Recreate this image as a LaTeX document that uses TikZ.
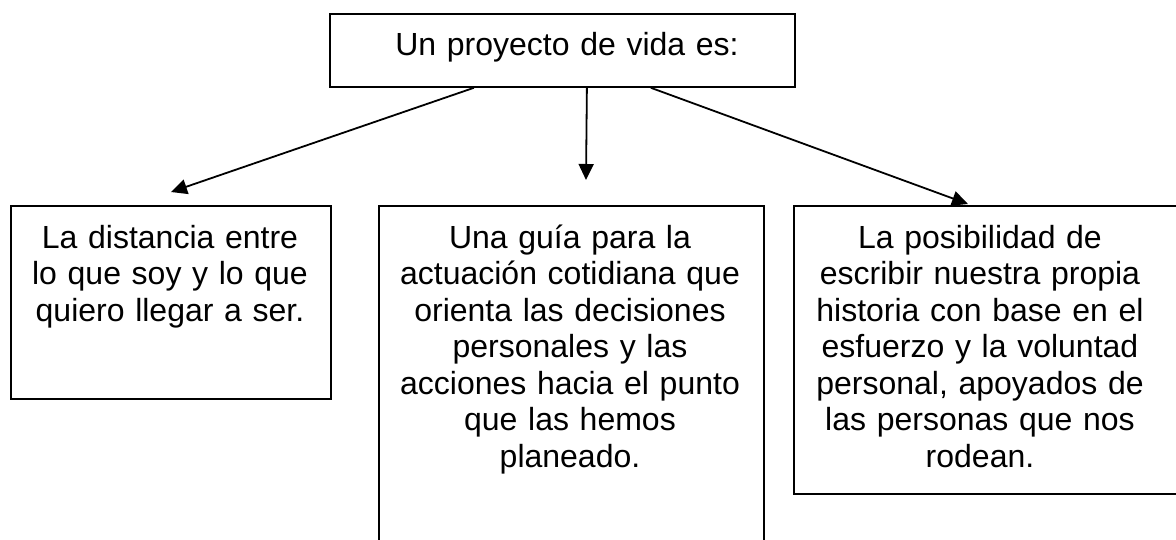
\documentclass[tikz,border=0pt]{standalone}
\usepackage{fontspec}
\setmainfont{Liberation Sans}
\usetikzlibrary{arrows.meta}

\tikzset{
	caja/.style={draw, line width=1.8pt, inner sep=0pt, anchor=north west},
	texto/.style={inner sep=0pt, anchor=base, text width=390pt, align=center, font=\fontsize{32}{36.5}\selectfont},
	flecha/.style={line width=1.8pt, -{Triangle[length=16pt,width=15pt]}}
}

\begin{document}
\begin{tikzpicture}[x=1pt,y=-1pt]

	\useasboundingbox (0,0) rectangle (1176,539);

	\node[caja, minimum width=465pt, minimum height=73pt] (proyecto) at (329,13) {};
	\node[caja, minimum width=320pt, minimum height=193pt] (distancia) at (10,205) {};
	\node[caja, minimum width=385pt, minimum height=360pt] (guia) at (378,205) {};
	\node[caja, minimum width=392pt, minimum height=288pt] (posibilidad) at (793,205) {};

	\node[texto] (t-proyecto) at (567,55) {Un proyecto de vida es:};
	\node[texto] (t-distancia) at (170,248) {La distancia entre\\lo que soy y lo que\\quiero llegar a ser.};
	\node[texto] (t-guia) at (570,248) {Una guía para la\\actuación cotidiana que\\orienta las decisiones\\personales y las\\acciones hacia el punto\\que las hemos\\planeado.};
	\node[texto] (t-posibilidad) at (980,248) {La posibilidad de\\escribir nuestra propia\\historia con base en el\\esfuerzo y la voluntad\\personal, apoyados de\\las personas que nos\\rodean.};

	\coordinate (fin-izq) at (171,192);
	\coordinate (fin-centro) at (586,180);
	\coordinate (fin-der) at (968,204);
	\draw[flecha] ([xshift=-88.5pt]proyecto.south) -- (fin-izq);
	\draw[flecha] ([xshift=24.5pt]proyecto.south) -- (fin-centro);
	\draw[flecha] ([xshift=88.5pt]proyecto.south) -- (fin-der);

\end{tikzpicture}
\end{document}
